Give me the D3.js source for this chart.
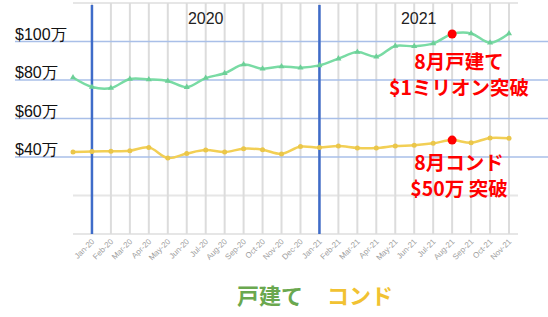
<!DOCTYPE html>
<html>
<head>
<meta charset="utf-8">
<script src="https://cdn.jsdelivr.net/npm/d3@7"></script>
<style>
  body { margin: 0; background: #fff; }
</style>
</head>
<body>
<div id="chart"></div>
<script>
// months shown (Dec-19 is only a start point, no label)
const months = ['Dec-19','Jan-20','Feb-20','Mar-20','Apr-20','May-20','Jun-20','Jul-20','Aug-20','Sep-20','Oct-20','Nov-20','Dec-20',
  'Jan-21','Feb-21','Mar-21','Apr-21','May-21','Jun-21','Jul-21','Aug-21','Sep-21','Oct-21','Nov-21'];
// median price, in 万 dollars
const houseValues = [81.3, 76.4, 75.8, 80.5, 80.3, 79.5, 76.3, 81, 83.5, 88, 85.9, 87, 86.4,
  87.6, 91.1, 94.5, 92.1, 97.7, 97.5, 99, 103.9, 104.2, 99.4, 104.2];
const condoValues = [42.6, 42.8, 43, 43.3, 45, 39.5, 41.8, 43.6, 42.6, 44.3, 43.8, 41.6, 45.4,
  44.9, 45.7, 44.7, 44.7, 45.7, 46.1, 47.1, 48.8, 47.4, 49.9, 49.7];
const yTicks = [40, 60, 80, 100];
const yTickLabels = ['$40万', '$60万', '$80万', '$100万'];
const years = ['2020', '2021'];
const yearStarts = ['Jan-20', 'Jan-21'];
const highlightMonth = 'Aug-21';
const legendLabels = ['戸建て', 'コンド'];

const width = 548, height = 317;
const plot = { left: 73, right: 518, top: 3, bottom: 234 };
const jp = '"Noto Sans CJK JP", "Noto Sans", sans-serif';

const svg = d3.select('#chart')
  .append('svg')
  .attr('width', width)
  .attr('height', height);

const x = d3.scalePoint()
  .domain(months)
  .range([plot.left, 509]);

const y = d3.scaleLinear()
  .domain([0, 120])
  .range([plot.bottom, plot.top]);

// light gray gridlines (0, 20, 120)
svg.append('g')
  .selectAll('line')
  .data([0, 20, 120])
  .join('line')
  .attr('x1', plot.left)
  .attr('x2', plot.right)
  .attr('y1', d => y(d))
  .attr('y2', d => y(d))
  .attr('stroke', '#e6e6e6')
  .attr('stroke-width', 2);

// vertical month gridlines
svg.append('g')
  .selectAll('line')
  .data(months.slice(1))
  .join('line')
  .attr('x1', d => x(d))
  .attr('x2', d => x(d))
  .attr('y1', plot.top)
  .attr('y2', plot.bottom)
  .attr('stroke', '#dcdcdc')
  .attr('stroke-width', 2);

// blue horizontal lines with price labels
svg.append('g')
  .selectAll('line')
  .data(yTicks)
  .join('line')
  .attr('x1', 15)
  .attr('x2', width)
  .attr('y1', d => y(d))
  .attr('y2', d => y(d))
  .attr('stroke', '#a9bfe8')
  .attr('stroke-width', 1.5);

svg.append('g')
  .selectAll('text')
  .data(yTicks)
  .join('text')
  .attr('x', 15)
  .attr('y', d => y(d) - 2)
  .style('font', '16px "Liberation Sans", Arial, sans-serif')
  .style('fill', '#111')
  .text((d, i) => yTickLabels[i]);

// year dividers
svg.append('g')
  .selectAll('line')
  .data(yearStarts)
  .join('line')
  .attr('x1', d => x(d))
  .attr('x2', d => x(d))
  .attr('y1', 5)
  .attr('y2', plot.bottom)
  .attr('stroke', '#3f6cc9')
  .attr('stroke-width', 2.5);

svg.append('g')
  .selectAll('text')
  .data(years)
  .join('text')
  .attr('x', (d, i) => ((x(yearStarts[i]) + (i + 1 < yearStarts.length ? x(yearStarts[i + 1]) : plot.right)) / 2))
  .attr('y', 24)
  .attr('text-anchor', 'middle')
  .style('font', '16px "Liberation Sans", Arial, sans-serif')
  .style('fill', '#222')
  .text(d => d);

// bottom month labels
svg.append('g')
  .selectAll('text')
  .data(months.slice(1))
  .join('text')
  .attr('transform', d => `translate(${x(d) + 3},${242}) rotate(-45)`)
  .attr('text-anchor', 'end')
  .style('font', '8px "Liberation Sans", Arial, sans-serif')
  .style('fill', '#a0a0a0')
  .text(d => d);

// lines
const line = d3.line()
  .x((d, i) => x(months[i]))
  .y(d => y(d))
  .curve(d3.curveCatmullRom.alpha(0.5));

svg.append('path')
  .datum(houseValues)
  .attr('d', line)
  .attr('fill', 'none')
  .attr('stroke', '#79dba4')
  .attr('stroke-width', 2.5);

svg.append('path')
  .datum(condoValues)
  .attr('d', line)
  .attr('fill', 'none')
  .attr('stroke', '#f2cf55')
  .attr('stroke-width', 2.5);

// markers
svg.append('g')
  .selectAll('path')
  .data(houseValues)
  .join('path')
  .attr('transform', (d, i) => `translate(${x(months[i])},${y(d)})`)
  .attr('d', d3.symbol(d3.symbolTriangle, 16))
  .attr('fill', '#6ccf97');

svg.append('g')
  .selectAll('circle')
  .data(condoValues)
  .join('circle')
  .attr('cx', (d, i) => x(months[i]))
  .attr('cy', d => y(d))
  .attr('r', 2.5)
  .attr('fill', '#eac64a');

// highlight dots for Aug-21
const hi = months.indexOf(highlightMonth);
svg.append('g')
  .selectAll('circle')
  .data([houseValues[hi], condoValues[hi]])
  .join('circle')
  .attr('cx', x(highlightMonth))
  .attr('cy', d => y(d))
  .attr('r', 4.5)
  .attr('fill', '#f00');

// annotations, two lines each in one text
const notes = [
  { lines: ['8月戸建て', '$1ミリオン突破'], y: 69 },
  { lines: ['8月コンド', '$50万 突破'], y: 170 }
];
svg.append('g')
  .selectAll('text')
  .data(notes)
  .join('text')
  .attr('y', d => d.y)
  .attr('text-anchor', 'middle')
  .style('font', `bold 19.5px ${jp}`)
  .style('fill', '#f00')
  .selectAll('tspan')
  .data(d => d.lines)
  .join('tspan')
  .attr('x', 459)
  .attr('dy', (d, i) => i === 0 ? 0 : 26)
  .text(d => d);

// legend
svg.append('text')
  .attr('x', 237)
  .attr('y', 304)
  .style('font', `bold 22px ${jp}`)
  .style('fill', '#6aa84f')
  .text(legendLabels[0]);

svg.append('text')
  .attr('x', 327)
  .attr('y', 304)
  .style('font', `bold 22px ${jp}`)
  .style('fill', '#f1c232')
  .text(legendLabels[1]);
</script>
</body>
</html>
